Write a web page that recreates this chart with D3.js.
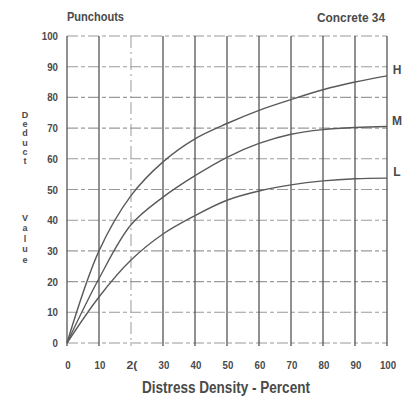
<!DOCTYPE html>
<html>
<head>
<meta charset="utf-8">
<script src="https://cdn.jsdelivr.net/npm/d3@7"></script>
<style>
  html, body { margin: 0; padding: 0; background: #ffffff; }
  svg { display: block; }
  text { font-family: "Liberation Sans Narrow", "Liberation Sans", Arial, sans-serif; }
</style>
</head>
<body>
<svg id="chart" width="418" height="408"></svg>
<script>
// ---- data ----
const density = [0, 10, 20, 30, 40, 50, 60, 70, 80, 90, 100];
const seriesH = [0, 30, 48, 59, 66.5, 71.5, 75.8, 79.3, 82.5, 85, 87];
const seriesM = [0, 21, 38.5, 47.5, 54.5, 60.5, 65, 68, 69.5, 70.2, 70.5];
const seriesL = [0, 15, 27, 35.5, 41.5, 46.5, 49.5, 51.5, 52.8, 53.5, 53.7];
const seriesNames = ["H", "M", "L"];
const xTicks = [0, 10, 20, 30, 40, 50, 60, 70, 80, 90, 100];
const yTicks = [0, 10, 20, 30, 40, 50, 60, 70, 80, 90, 100];
const chartTitle = "Punchouts";
const chartSubtitle = "Concrete 34";
const xTitle = "Distress Density - Percent";
const yTitleWords = ["Deduct", "Value"];

const svg = d3.select("#chart");
const x = d3.scaleLinear().domain([0, 100]).range([67, 387]);
const y = d3.scaleLinear().domain([0, 100]).range([343, 36]);
const textCol = "#4a4a4a";

// horizontal grid (dashed, lighter)
svg.append("g").selectAll("line").data(yTicks).join("line")
  .attr("x1", x(0)).attr("x2", x(100))
  .attr("y1", d => y(d)).attr("y2", d => y(d))
  .attr("stroke", "#9a9a9a").attr("stroke-width", 1.1)
  .attr("stroke-dasharray", "11,3,4,3");

// vertical grid (solid, darker); 20 line lighter/broken
svg.append("g").selectAll("line").data(xTicks).join("line")
  .attr("x1", d => x(d)).attr("x2", d => x(d))
  .attr("y1", y(100)).attr("y2", y(0) + 3)
  .attr("stroke", d => (d === 20 ? "#9a9a9a" : "#555"))
  .attr("stroke-width", d => (d === 20 ? 1 : 1.3))
  .attr("stroke-dasharray", d => (d === 20 ? "12,4,2,4" : null));

// curves
const line = d3.line().x(d => x(d[0])).y(d => y(d[1])).curve(d3.curveCatmullRom.alpha(0.5));
const allSeries = [seriesH, seriesM, seriesL];
svg.append("g").selectAll("path").data(allSeries).join("path")
  .attr("d", s => line(density.map((v, i) => [v, s[i]])))
  .attr("fill", "none").attr("stroke", "#5a5a5a").attr("stroke-width", 1.4);

// series labels
svg.append("g").selectAll("text").data(allSeries).join("text")
  .attr("x", 397).attr("y", s => y(s[s.length - 1]) - 6)
  .attr("text-anchor", "middle").attr("dominant-baseline", "central")
  .attr("font-size", 12).attr("font-weight", "bold").attr("fill", textCol)
  .text((s, i) => seriesNames[i]);

// y tick labels
svg.append("g").selectAll("text").data(yTicks).join("text")
  .attr("x", 58).attr("y", d => y(d))
  .attr("text-anchor", "end").attr("dominant-baseline", "central")
  .attr("font-size", 11).attr("font-weight", "bold").attr("fill", textCol)
  .attr("textLength", d => String(d).length * 5.4).attr("lengthAdjust", "spacingAndGlyphs")
  .text(d => d);

// x tick labels
svg.append("g").selectAll("text").data(xTicks).join("text")
  .attr("x", d => x(d) + 1).attr("y", 365)
  .attr("text-anchor", "middle").attr("dominant-baseline", "central")
  .attr("font-size", 11).attr("font-weight", "bold").attr("fill", textCol)
  .attr("textLength", d => String(d).length * 5.4).attr("lengthAdjust", "spacingAndGlyphs")
  .text(d => (d === 20 ? "2(" : d));

// titles
svg.append("text").attr("x", 67).attr("y", 21)
  .attr("font-size", 12).attr("font-weight", "bold").attr("fill", textCol)
  .attr("textLength", 57).attr("lengthAdjust", "spacingAndGlyphs")
  .text(chartTitle);
svg.append("text").attr("x", 317).attr("y", 22)
  .attr("font-size", 12).attr("font-weight", "bold").attr("fill", textCol)
  .attr("textLength", 68).attr("lengthAdjust", "spacingAndGlyphs")
  .text(chartSubtitle);
svg.append("text").attr("x", 142).attr("y", 393)
  .attr("font-size", 16).attr("font-weight", "bold").attr("fill", textCol)
  .attr("textLength", 168).attr("lengthAdjust", "spacingAndGlyphs")
  .text(xTitle);

// vertical stacked y title
const letters = [];
yTitleWords[0].split("").forEach((c, i) => letters.push({c, yy: 115 + i * 9.2}));
yTitleWords[1].split("").forEach((c, i) => letters.push({c, yy: 218 + i * 10.4}));
svg.append("g").selectAll("text").data(letters).join("text")
  .attr("x", 25).attr("y", d => d.yy)
  .attr("text-anchor", "middle").attr("dominant-baseline", "central")
  .attr("font-size", 9).attr("font-weight", "bold").attr("fill", textCol)
  .text(d => d.c);
</script>
</body>
</html>
